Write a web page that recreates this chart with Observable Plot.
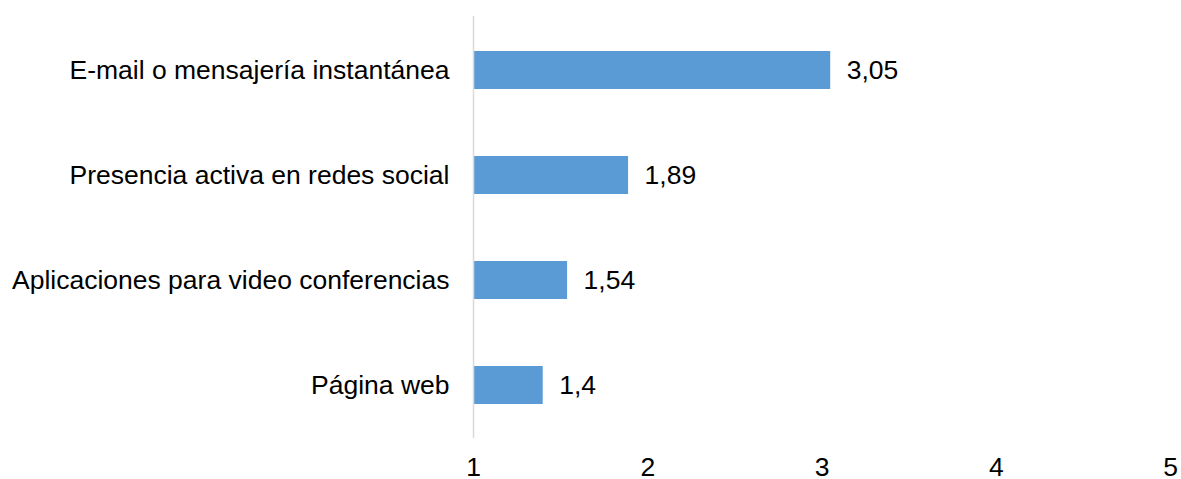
<!DOCTYPE html>
<html>
<head>
<meta charset="utf-8">
<script src="https://cdn.jsdelivr.net/npm/d3@7"></script>
<script src="https://cdn.jsdelivr.net/npm/@observablehq/plot@0.6"></script>
<style>
  html, body { margin: 0; padding: 0; background: #fff; }
  svg { display: block; }
</style>
</head>
<body>
<div id="chart"></div>
<script>
const categories = [
  "E-mail o mensajería instantánea",
  "Presencia activa en redes social",
  "Aplicaciones para video conferencias",
  "Página web"
];
const values = [3.05, 1.89, 1.54, 1.4];
const xTicks = [1, 2, 3, 4, 5];

const data = categories.map((c, i) => ({category: c, value: values[i]}));
const fmt = d => String(d).replace(".", ",");
const FS = 26.5;

const chart = Plot.plot({
  width: 1181,
  height: 479,
  marginLeft: 473,
  marginRight: 11,
  marginTop: 16,
  marginBottom: 41,
  style: {fontFamily: "'Liberation Sans', Arial, sans-serif", fontSize: FS + "px", color: "#000", background: "#fff"},
  x: {domain: [1, 5], ticks: xTicks, tickFormat: d => String(d), label: null},
  y: {domain: categories, label: null, paddingInner: 0.64, paddingOuter: 0.32},
  marks: [
    Plot.barX(data, {y: "category", x1: 1, x2: "value", fill: "#5B9BD5"}),
    Plot.ruleX([1], {stroke: "#d9d9d9", strokeWidth: 1.5}),
    Plot.text(data, {y: "category", x: "value", text: d => fmt(d.value), textAnchor: "start", dx: 16, fill: "#000", fontSize: FS}),
    Plot.axisX({ticks: xTicks, tickSize: 0, tickPadding: 19, tickFormat: d => String(d), label: null, fontSize: FS}),
    Plot.axisY({tickSize: 0, tickPadding: 24, label: null, fontSize: FS})
  ]
});
document.getElementById("chart").appendChild(chart);
</script>
</body>
</html>
